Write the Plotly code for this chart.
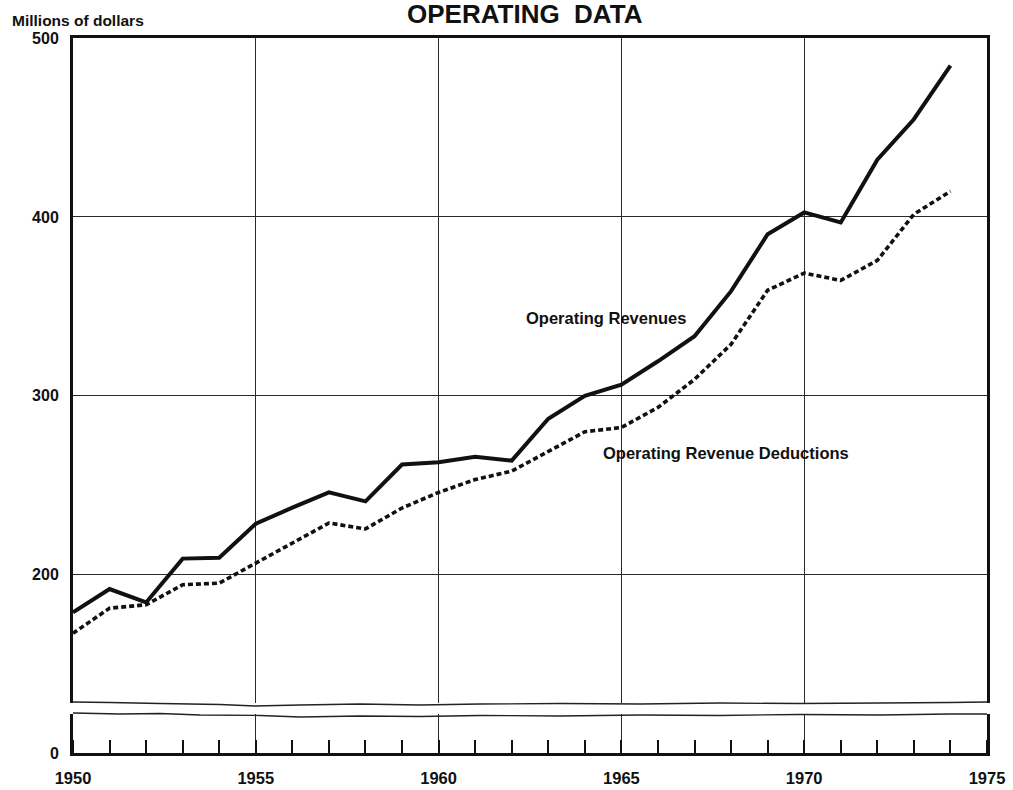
import plotly.graph_objects as go
from plotly.subplots import make_subplots

years = list(range(1950, 1975))
operating_revenues = [179, 192, 184.5, 209, 209.5, 228.5, 237.5, 246, 241, 261.6, 262.9,
                      265.9, 263.8, 287.2, 300, 306.2, 319.3, 333.3, 358.5, 390.3,
                      402.5, 396.9, 432, 454.6, 484.5]
operating_deductions = [167.3, 181.3, 183.2, 194.4, 195.3, 206.5, 217.7, 228.9, 225.6, 237.3,
                        246, 253.2, 257.9, 269.1, 279.9, 282.3, 293.5, 309.2, 328.8, 359,
                        368.6, 364.5, 375.7, 401.5, 414.3]
x_tick_vals = [1950, 1955, 1960, 1965, 1970, 1975]
y_tick_vals_upper = [200, 300, 400, 500]
y_tick_vals_lower = [0]

W, H = 1013, 790
L, R, T, B = 73, 26, 38, 37
ph = H - T - B  # 715
pw = W - L - R  # 914

def py(p):  # pixel y -> paper y
    return (H - B - p) / ph

def px(p):
    return (p - L) / pw

upper_bottom = py(703)
lower_top = py(714)

fig = make_subplots(rows=2, cols=1, shared_xaxes=False, vertical_spacing=0.0)

for row in (1, 2):
    fig.add_trace(go.Scatter(x=years, y=operating_revenues, mode="lines",
                             line=dict(color="#111111", width=4), hoverinfo="skip"),
                  row=row, col=1)
    fig.add_trace(go.Scatter(x=years, y=operating_deductions, mode="lines",
                             line=dict(color="#111111", width=3.6, dash="5px,3px"),
                             hoverinfo="skip"),
                  row=row, col=1)

label_font_x = dict(family="Liberation Sans", size=16.5, color="#111111")
label_font_y = dict(family="Liberation Sans", size=16, color="#111111")

fig.update_layout(
    width=W, height=H,
    margin=dict(l=L, r=R, t=T, b=B, autoexpand=False),
    paper_bgcolor="white", plot_bgcolor="white",
    showlegend=False,
)
fig.update_xaxes(range=[1950, 1975], showgrid=True, gridcolor="#2a2a2a", gridwidth=1,
                 zeroline=False, linecolor="#111111", linewidth=3)
fig.update_yaxes(zeroline=False, linecolor="#111111", linewidth=3)

fig.update_xaxes(row=1, col=1, domain=[0, 1], tickmode="linear", tick0=1950, dtick=5,
                 showticklabels=False, ticks="", showline=True, side="top", mirror=False)
fig.update_yaxes(row=1, col=1, domain=[upper_bottom, 1], range=[128.3, 500], tickmode="array",
                 tickvals=y_tick_vals_upper,
                 ticktext=["<b>%d</b>" % v for v in y_tick_vals_upper],
                 tickfont=label_font_y, ticks="", ticklabelstandoff=8,
                 showgrid=True, gridcolor="#2a2a2a", gridwidth=1,
                 showline=True, mirror=True)
fig.update_xaxes(row=2, col=1, domain=[0, 1], tickmode="array", tickvals=x_tick_vals,
                 ticktext=["<b>%d</b>" % v for v in x_tick_vals], tickfont=label_font_x,
                 ticks="", ticklabelstandoff=8,
                 minor=dict(ticks="inside", ticklen=13, tickwidth=1.5, tickcolor="#111111",
                            dtick=1, tick0=1950, showgrid=False),
                 showline=True, mirror=False)
fig.update_yaxes(row=2, col=1, domain=[0, lower_top], range=[0, 21.8], tickmode="array",
                 tickvals=y_tick_vals_lower, ticktext=["<b>0</b>"], tickfont=label_font_y,
                 ticks="", ticklabelstandoff=8, showgrid=False,
                 showline=True, mirror=True)

# wavy break lines (decoration)
wave_upper = [(73, 702), (110, 702.5), (160, 703.5), (220, 704.5), (255, 706), (300, 705),
              (360, 704), (420, 705), (480, 704), (560, 703.5), (640, 704), (720, 703),
              (800, 703.5), (880, 703), (950, 702.5), (987, 702)]
wave_lower = [(73, 713), (120, 714), (160, 713.5), (200, 715), (260, 715.5), (300, 717),
              (360, 716), (420, 716.5), (480, 715.5), (560, 716), (640, 715), (720, 715.5),
              (800, 714.5), (880, 715), (950, 714), (987, 714)]
for wave in (wave_upper, wave_lower):
    path = "M " + " L ".join("%.5f,%.5f" % (px(a), py(b)) for a, b in wave)
    fig.add_shape(type="path", path=path, xref="paper", yref="paper",
                  line=dict(color="#222222", width=1.3))

annot_font = dict(family="Liberation Sans", size=16.5, color="#111111")
fig.add_annotation(text="<b>OPERATING  DATA</b>", xref="paper", yref="paper",
                   x=px(525), y=py(14), xanchor="center", yanchor="middle", showarrow=False,
                   font=dict(family="Liberation Sans", size=26, color="#111111"))
fig.add_annotation(text="<b>Millions of dollars</b>", xref="paper", yref="paper",
                   x=px(10), y=py(21), xanchor="left", yanchor="middle", showarrow=False,
                   font=dict(family="Liberation Sans", size=15.5, color="#111111"))
fig.add_annotation(text="<b>Operating Revenues</b>", xref="x", yref="y",
                   x=1962.33, y=343.3, xanchor="left", yanchor="middle", showarrow=False,
                   font=annot_font)
fig.add_annotation(text="<b>Operating Revenue Deductions</b>", xref="x", yref="y",
                   x=1964.44, y=268.3, xanchor="left", yanchor="middle", showarrow=False,
                   font=annot_font)

fig.write_html("out.html", config={"displayModeBar": False},
               post_script="document.body.style.margin='0';")
